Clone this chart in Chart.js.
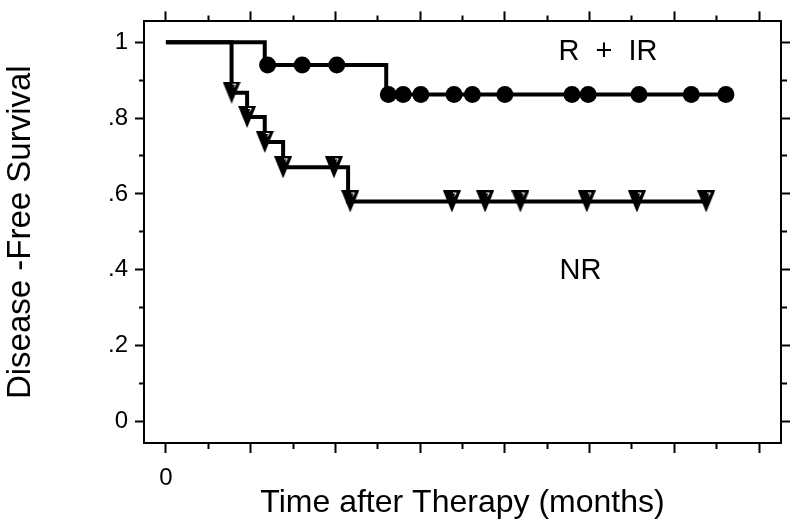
<!DOCTYPE html>
<html>
<head>
<meta charset="utf-8">
<script src="https://cdn.jsdelivr.net/npm/chart.js@4.4.1/dist/chart.umd.min.js"></script>
<style>
  html, body { margin: 0; padding: 0; background: #fff; }
  canvas { display: block; }
</style>
</head>
<body>
<canvas id="kmChart" width="800" height="528"></canvas>
<script>
// R + IR: step points (time in months, survival) and the marks on the curve
const rirTimes     = [0, 14.0, 31.2, 79.3];
const rirSurvival  = [1, 0.94, 0.862, 0.862];
const rirMarkTimes = [14.4, 19.3, 24.2, 31.5, 33.6, 36.1, 40.8, 43.4, 48.0, 57.5, 59.8, 67.0, 74.4, 79.3];

// NR
const nrTimes     = [0, 9.3, 11.5, 14.0, 16.6, 25.8, 76.8];
const nrSurvival  = [1, 0.867, 0.803, 0.737, 0.67, 0.58, 0.58];
const nrMarkTimes = [9.3, 11.5, 14.0, 16.6, 23.8, 26.1, 40.5, 45.2, 50.2, 59.6, 66.7, 76.5];

// axis ticks (minor ticks carry an empty label)
const xTicks      = [0, 6, 12, 18, 24, 30, 36, 42, 48, 54, 60, 66, 72, 78, 84];
const xTickLabels = ['0', '', '', '', '', '', '', '', '', '', '', '', '', '', ''];
const yTicks      = [0, 0.1, 0.2, 0.3, 0.4, 0.5, 0.6, 0.7, 0.8, 0.9, 1];
const yTickLabels = ['0', '', '.2', '', '.4', '', '.6', '', '.8', '', '1'];

// group labels inside the plot (data coordinates)
const groupLabels = [
    { text: 'R  +  IR', x: 62.6, y: 0.975 },
    { text: 'NR',       x: 58.7, y: 0.396 }
];

const FONT = "'Liberation Sans', Arial, sans-serif";

// survival value of a step curve at time t
function survivalAt(times, surv, t) {
    let s = surv[0];
    times.forEach((tt, i) => { if (tt <= t) s = surv[i]; });
    return s;
}

function curvePoints(times, surv) {
    return times.map((t, i) => ({ x: t, y: surv[i] }));
}

function markPoints(markTimes, times, surv) {
    return markTimes.map(t => ({ x: t, y: survivalAt(times, surv, t) }));
}

// solid downward triangle with the little white nick in its corner
function makeTriangle() {
    const c = document.createElement("canvas");
    c.width = 18; c.height = 22;
    const g = c.getContext("2d");
    g.fillStyle = "#000";
    g.beginPath();
    g.moveTo(0, 0); g.lineTo(18, 0); g.lineTo(9, 22);
    g.closePath(); g.fill();
    g.strokeStyle = "#fff"; g.lineWidth = 1;
    g.beginPath();
    g.moveTo(10, 2.5); g.lineTo(13.5, 2.5);
    g.moveTo(13, 3); g.lineTo(11.5, 5.5);
    g.stroke();
    return c;
}
const triangle = makeTriangle();

const groupLabelPlugin = {
    id: "groupLabels",
    afterDatasetsDraw(chart) {
        const { ctx, scales } = chart;
        ctx.save();
        ctx.fillStyle = "#000";
        ctx.font = "29px " + FONT;
        ctx.textAlign = "center";
        ctx.textBaseline = "middle";
        groupLabels.forEach(l => {
            ctx.fillText(l.text, scales.x.getPixelForValue(l.x), scales.y.getPixelForValue(l.y));
        });
        ctx.restore();
    }
};

const xMin = -3.1, xMax = 87.1;
const yMin = -0.057, yMax = 1.055;

function xGrid(minorDash) {
    return {
        drawOnChartArea: false, tickLength: 10, tickWidth: 2, tickColor: "#000",
        tickBorderDash: c => (c.index % 2 === 1 ? minorDash : [])
    };
}
function yGrid(minorDash) {
    return {
        drawOnChartArea: false, tickLength: 9, tickWidth: 2, tickColor: "#000",
        tickBorderDash: c => (c.index % 2 === 1 ? minorDash : [])
    };
}
const setX = s => { s.ticks = xTicks.map(v => ({ value: v })); };
const setY = s => { s.ticks = yTicks.map(v => ({ value: v })); };

new Chart(document.getElementById("kmChart"), {
    type: "line",
    data: {
        datasets: [
            { data: markPoints(rirMarkTimes, rirTimes, rirSurvival), showLine: false,
              pointStyle: "circle", pointRadius: 8.5, pointBackgroundColor: "#000", pointBorderWidth: 0, order: 1 },
            { data: markPoints(nrMarkTimes, nrTimes, nrSurvival), showLine: false,
              pointStyle: triangle, pointRadius: 9, order: 1 },
            { data: curvePoints(rirTimes, rirSurvival), stepped: "before", borderColor: "#000",
              borderWidth: 4, borderJoinStyle: "miter", pointRadius: 0, fill: false, order: 2 },
            { data: curvePoints(nrTimes, nrSurvival), stepped: "before", borderColor: "#000",
              borderWidth: 4, borderJoinStyle: "miter", pointRadius: 0, fill: false, order: 2 }
        ]
    },
    options: {
        responsive: false,
        animation: false,
        layout: { padding: 0 },
        plugins: { legend: { display: false }, tooltip: { enabled: false } },
        scales: {
            x: {
                type: "linear", position: "bottom", min: xMin, max: xMax,
                afterBuildTicks: setX,
                afterFit: s => { s.height = 85; },
                grid: xGrid([5, 20]),
                border: { color: "#000", width: 2 },
                ticks: { color: "#000", padding: 11, maxRotation: 0, autoSkip: false,
                         font: { family: FONT, size: 24 },
                         callback: (v, i) => xTickLabels[i] },
                title: { display: true, text: "Time after Therapy (months)", color: "#000",
                         font: { family: FONT, size: 32 }, padding: { top: 0, bottom: 6 } }
            },
            xTop: {
                type: "linear", position: "top", min: xMin, max: xMax,
                afterBuildTicks: setX,
                afterFit: s => { s.height = 18; },
                grid: xGrid([0, 4, 5, 20]),
                border: { color: "#000", width: 2 },
                ticks: { display: false }
            },
            y: {
                type: "linear", position: "left", min: yMin, max: yMax,
                afterBuildTicks: setY,
                afterFit: s => { s.width = 144; },
                grid: yGrid([0, 4, 5, 20]),
                border: { color: "#000", width: 2 },
                ticks: { color: "#000", padding: 7, autoSkip: false,
                         font: { family: FONT, size: 24 },
                         callback: (v, i) => yTickLabels[i] },
                title: { display: true, text: "Disease -Free Survival", color: "#000",
                         font: { family: FONT, size: 33 }, padding: { top: 1, bottom: 0 } }
            },
            yRight: {
                type: "linear", position: "right", min: yMin, max: yMax,
                afterBuildTicks: setY,
                afterFit: s => { s.width = 19; },
                grid: yGrid([5, 20]),
                border: { color: "#000", width: 2 },
                ticks: { display: false }
            }
        }
    },
    plugins: [groupLabelPlugin]
});
</script>
</body>
</html>
